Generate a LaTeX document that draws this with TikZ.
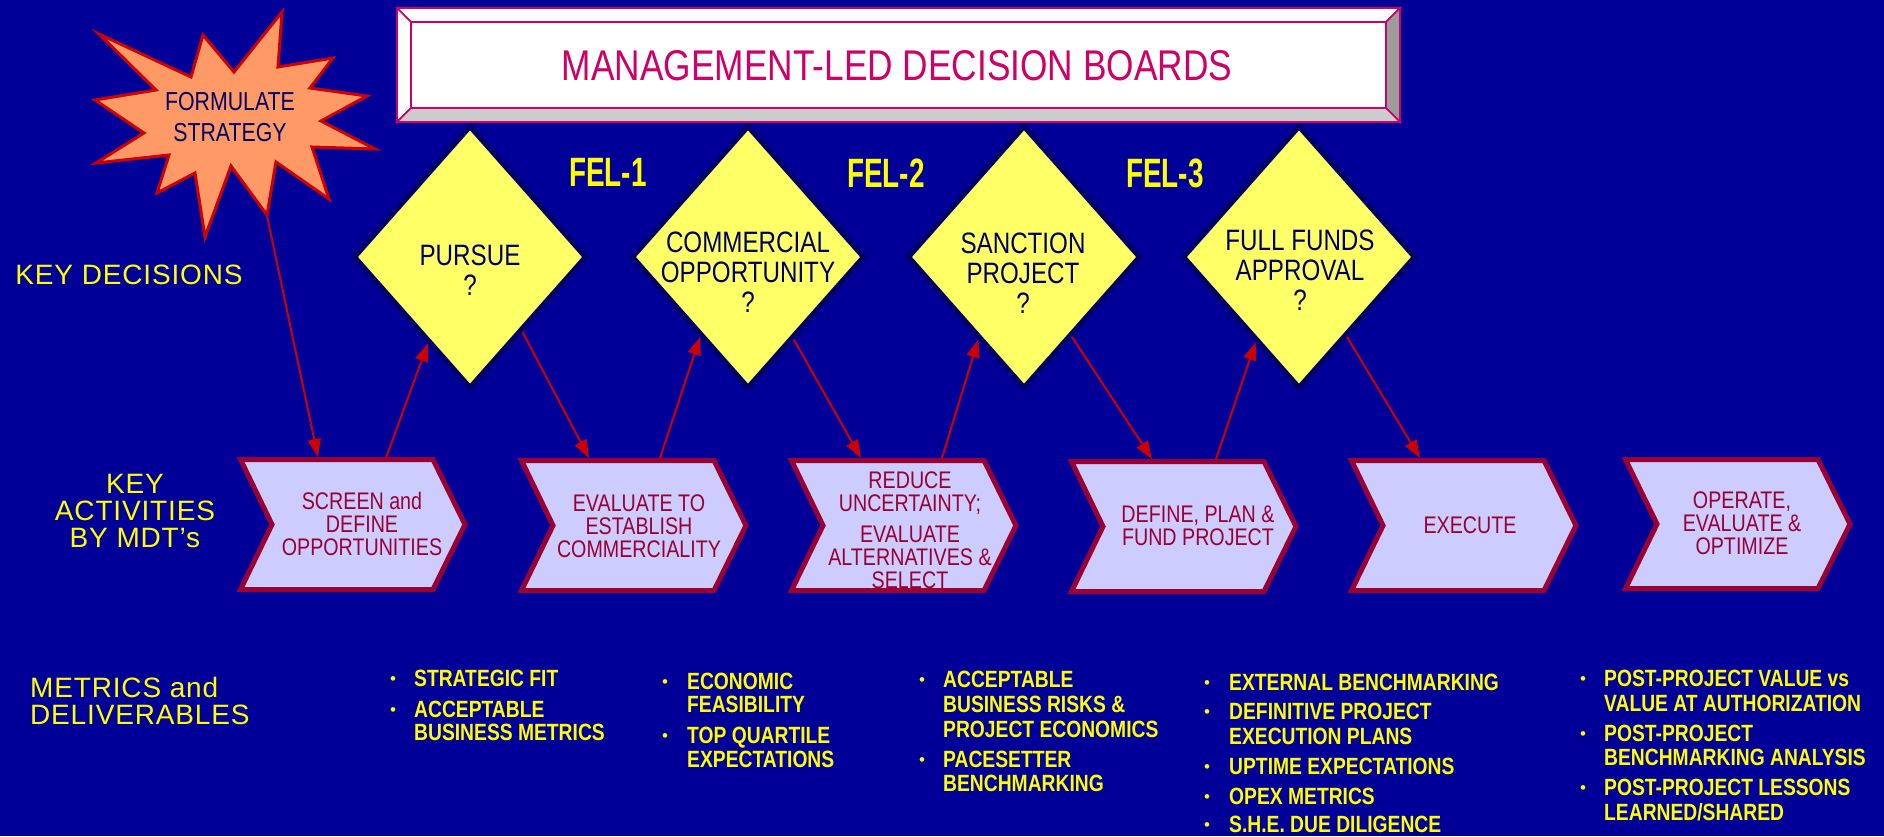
\documentclass[tikz,border=0pt]{standalone}
\usepackage{fontspec}
\setmainfont{Liberation Sans}
\newfontfamily\narrowfont[FakeStretch=0.82]{Liberation Sans}
\newfontfamily\felfont[FakeStretch=0.68]{Liberation Sans}
\newfontfamily\labelfont[LetterSpace=3]{Liberation Sans}
\usetikzlibrary{shapes.geometric,arrows.meta,calc}
\definecolor{bgblue}{HTML}{000099}
\definecolor{yel}{HTML}{FFFF00}
\definecolor{diafill}{HTML}{FFFF66}
\definecolor{navy}{HTML}{000066}
\definecolor{chevfill}{HTML}{CCCCFF}
\definecolor{chevline}{HTML}{990033}
\definecolor{starfill}{HTML}{FF9966}
\definecolor{starline}{HTML}{CC0000}
\definecolor{pinkc}{HTML}{CC0066}
\definecolor{arrowred}{HTML}{CC0000}
\definecolor{grayA}{HTML}{CCCCCC}
\definecolor{grayB}{HTML}{9C9C9C}
\tikzset{
 arr/.style={draw=arrowred, line width=2pt, -{Triangle[length=18pt,width=13pt]}},
 dia/.style={diamond, draw=navy, line width=5pt, fill=diafill, minimum width=233pt, minimum height=263pt, inner sep=0pt},
 diatext/.style={text=navy, align=center, inner sep=0pt, font=\narrowfont\fontsize{29.5}{30}\selectfont},
 chev/.style={draw=chevline, line width=5pt, fill=chevfill, line join=miter},
 chevtext/.style={text=chevline, align=center, inner sep=0pt, font=\narrowfont\fontsize{24}{23}\selectfont},
 fel/.style={text=yel, inner sep=0pt, font=\felfont\bfseries\fontsize{41}{41}\selectfont},
 lbl/.style={text=yel, inner sep=0pt, font=\labelfont\fontsize{28}{27}\selectfont},
 btext/.style={text=yel, inner sep=0pt, anchor=base west, font=\narrowfont\bfseries\fontsize{23.5}{24}\selectfont},
 bdot/.style={text=yel, inner sep=0pt, anchor=base, yshift=2.4pt, font=\fontsize{17}{18}\selectfont},
 titletext/.style={text=pinkc, inner sep=0pt, font=\narrowfont\fontsize{43}{43}\selectfont},
 startext/.style={text=navy, align=center, inner sep=0pt, font=\narrowfont\fontsize{26}{31}\selectfont},
 bevel/.style={draw=pinkc, line width=1.5pt, line join=miter},
 starb/.style={draw=starline, line width=3pt, fill=starfill, line join=miter}
}
\newcommand\mybl[4]{\node[btext] (#1) at (#2,#3) {#4};}
\newcommand\mybd[3]{\node[bdot] (#1) at (#2,#3) {•};}
\newcommand\mychev[4]{% name, left, top, bottom
 \draw[chev] ({#2+2.5},{#3+2.5}) -- ({#2+195},{#3+2.5}) -- ({#2+227},{(#3+#4)/2}) -- ({#2+195},{#4-2.5}) -- ({#2+2.5},{#4-2.5}) -- ({#2+34},{(#3+#4)/2}) -- cycle;}
\begin{document}
\begin{tikzpicture}[x=1pt,y=-1pt]
\fill[bgblue] (0,0) rectangle (1884,836);
\useasboundingbox (0,0) rectangle (1884,836);

% title box
\fill[white] (397,8) rectangle (1400,122);
\filldraw[bevel, fill=white] (397,8) -- (1400,8) -- (1386,22) -- (411,22) -- cycle;
\filldraw[bevel, fill=white] (397,8) -- (411,22) -- (411,108) -- (397,122) -- cycle;
\filldraw[bevel, fill=grayB] (1400,8) -- (1400,122) -- (1386,108) -- (1386,22) -- cycle;
\filldraw[bevel, fill=grayA] (397,122) -- (1400,122) -- (1386,108) -- (411,108) -- cycle;
\draw[bevel] (411,22) rectangle (1386,108);
\draw[pinkc, line width=2.5pt] (397,8) rectangle (1400,122);
\node[titletext] (title) at (897,65.5) {MANAGEMENT-LED DECISION BOARDS};

% starburst
\draw[starb] (282,12) -- (278,67) -- (333,58) -- (310,88) -- (367,96) -- (321,121) -- (375,149) -- (312,147) -- (329,199) -- (276,162) -- (267,215) -- (231,166) -- (205,237) -- (195,173) -- (157,193) -- (169,155) -- (96,163) -- (144,133) -- (95,100) -- (156,90) -- (99,34) -- (191,77) -- (203,35) -- (234,72) -- cycle;
\coordinate (fsb) at (267,216);
\node[startext] (fs) at (230,117.5) {FORMULATE\\STRATEGY};

% left labels
\node[lbl] (kd) at (129,275) {KEY DECISIONS};
\node[lbl, align=center] (ka) at (135,511) {KEY\\ACTIVITIES\\BY MDT’s};
\node[lbl, align=left, anchor=west] (md) at (30,701) {METRICS and\\DELIVERABLES};

% FEL labels
\node[fel] (fel1) at (608,172) {FEL-1};
\node[fel] (fel2) at (886,173) {FEL-2};
\node[fel] (fel3) at (1165,173) {FEL-3};

% diamonds
\node[dia] (d1) at (470,257) {};
\node[dia] (d2) at (748,257) {};
\node[dia] (d3) at (1024,257) {};
\node[dia] (d4) at (1299,257) {};
\node[diatext] (t1) at (470,270) {PURSUE\\?};
\node[diatext] (t2) at (748,272) {COMMERCIAL\\OPPORTUNITY\\?};
\node[diatext] (t3) at (1023,273) {SANCTION\\PROJECT\\?};
\node[diatext] (t4) at (1300,270) {FULL FUNDS\\APPROVAL\\?};

% chevrons
\mychev{c1}{238}{457}{592}
\mychev{c2}{519}{458}{593}
\mychev{c3}{789}{458}{593}
\mychev{c4}{1069}{459}{594}
\mychev{c5}{1349}{458}{593}
\mychev{c6}{1623}{457}{591}
\node[chevtext] (a1) at (362,524) {SCREEN and\\DEFINE\\OPPORTUNITIES};
\node[chevtext] (a2) at (639,526) {EVALUATE TO\\ESTABLISH\\COMMERCIALITY};
\node[chevtext] (a3) at (910,530) {REDUCE\\UNCERTAINTY;\\[8pt]EVALUATE\\ALTERNATIVES \&\\SELECT};
\node[chevtext] (a4) at (1198,525.5) {DEFINE, PLAN \&\\FUND PROJECT};
\node[chevtext] (a5) at (1470,525) {EXECUTE};
\node[chevtext] (a6) at (1742,523.5) {OPERATE,\\EVALUATE \&\\OPTIMIZE};

\coordinate (c1in) at (318,457);
\coordinate (c1out) at (386,458);
\coordinate (c2in) at (589,458);
\coordinate (c2out) at (660,458);
\coordinate (c3in) at (861,458);
\coordinate (c3out) at (942,458);
\coordinate (c4in) at (1152,459);
\coordinate (c4out) at (1216,459);
\coordinate (c5in) at (1420,458);

% arrows
\draw[arr] (fsb) -- (c1in);
\draw[arr] (c1out) -- (d1.-116);
\draw[arr] (d1.-55.6) -- (c2in);
\draw[arr] (c2out) -- (d2.-121.9);
\draw[arr] (d2.-61.7) -- (c3in);
\draw[arr] (c3out) -- (d3.-119.4);
\draw[arr] (d3.-59.6) -- (c4in);
\draw[arr] (c4out) -- (d4.-117.5);
\draw[arr] (d4.-59.6) -- (c5in);

% metrics column 1
\mybd{p1}{393}{686.4}
\mybl{l1a}{414}{686.4}{STRATEGIC FIT}
\mybd{p2}{393}{717.4}
\mybl{l1b}{414}{717.4}{ACCEPTABLE}
\mybl{l1c}{414}{740.4}{BUSINESS METRICS}
% column 2
\mybd{p3}{665}{689.4}
\mybl{l2a}{687}{689.4}{ECONOMIC}
\mybl{l2b}{687}{712.4}{FEASIBILITY}
\mybd{p4}{665}{743.4}
\mybl{l2c}{687}{743.4}{TOP QUARTILE}
\mybl{l2d}{687}{767.4}{EXPECTATIONS}
% column 3
\mybd{p5}{922}{687.4}
\mybl{l3a}{943}{687.4}{ACCEPTABLE}
\mybl{l3b}{943}{712.4}{BUSINESS RISKS \&}
\mybl{l3c}{943}{737.4}{PROJECT ECONOMICS}
\mybd{p6}{922}{767.4}
\mybl{l3d}{943}{767.4}{PACESETTER}
\mybl{l3e}{943}{791.4}{BENCHMARKING}
% column 4
\mybd{p7}{1207}{690.4}
\mybl{l4a}{1229}{690.4}{EXTERNAL BENCHMARKING}
\mybd{p8}{1207}{719.4}
\mybl{l4b}{1229}{719.4}{DEFINITIVE PROJECT}
\mybl{l4c}{1229}{744.4}{EXECUTION PLANS}
\mybd{p9}{1207}{774.4}
\mybl{l4d}{1229}{774.4}{UPTIME EXPECTATIONS}
\mybd{p10}{1207}{804.4}
\mybl{l4e}{1229}{804.4}{OPEX METRICS}
\mybd{p11}{1207}{832.5}
\mybl{l4f}{1229}{832.5}{S.H.E. DUE DILIGENCE}
% column 5
\mybd{p12}{1583}{686.4}
\mybl{l5a}{1604}{686.4}{POST-PROJECT VALUE vs}
\mybl{l5b}{1604}{711.4}{VALUE AT AUTHORIZATION}
\mybd{p13}{1583}{741.4}
\mybl{l5c}{1604}{741.4}{POST-PROJECT}
\mybl{l5d}{1604}{765.4}{BENCHMARKING ANALYSIS}
\mybd{p14}{1583}{795.4}
\mybl{l5e}{1604}{795.4}{POST-PROJECT LESSONS}
\mybl{l5f}{1604}{820.4}{LEARNED/SHARED}
\end{tikzpicture}
\end{document}
